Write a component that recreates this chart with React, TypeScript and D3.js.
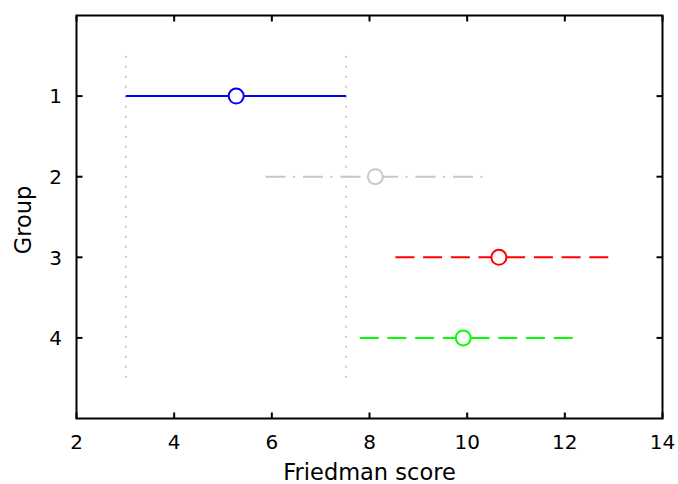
import React from "react";
import * as d3 from "d3";

const groups = [1, 2, 3, 4];
const means = [5.27, 8.12, 10.65, 9.92];
const lowers = [3.01, 5.87, 8.43, 7.68];
const uppers = [7.52, 10.36, 12.89, 12.16];
const xTicks = [2, 4, 6, 8, 10, 12, 14];
const yTicks = [1, 2, 3, 4];
const xLabel = "Friedman score";
const yLabel = "Group";

const W = 678;
const H = 484;
const L = 76.5, R = 662.5, T = 15.5, B = 418.5;

const styles = [
  { color: "#0000ff", dash: "none", fromRight: false },
  { color: "#c8c8c8", dash: "20 7.5 2 8", fromRight: false },
  { color: "#ff0000", dash: "19 8.7", fromRight: true },
  { color: "#00ff00", dash: "19 8.7", fromRight: true },
];

export default function App() {
  const x = d3.scaleLinear().domain([2, 14]).range([L, R]);
  const y = d3.scaleLinear().domain([0, 5]).range([T, B]);
  const font = "DejaVu Sans, sans-serif";
  const tickLen = 6;
  return (
    <svg width={W} height={H} style={{ position: "absolute", left: 0, top: 0, background: "#fff" }}>
      <rect x={0} y={0} width={W} height={H} fill="#fff" />
      {[lowers[0], uppers[0]].map((v, i) => (
        <line key={"v" + i} x1={x(v)} x2={x(v)} y1={y(0.5)} y2={y(4.5)}
          stroke="#c8c8c8" strokeWidth={2} strokeDasharray="2 8" />
      ))}
      {groups.map((g, i) => {
        const a = styles[i].fromRight ? uppers[i] : lowers[i];
        const b = styles[i].fromRight ? lowers[i] : uppers[i];
        return (
          <g key={g}>
            <line x1={x(a)} x2={x(b)} y1={y(g)} y2={y(g)}
              stroke={styles[i].color} strokeWidth={2} strokeDasharray={styles[i].dash} />
            <circle cx={x(means[i])} cy={y(g)} r={7.5} fill="#fff"
              stroke={styles[i].color} strokeWidth={2} />
          </g>
        );
      })}
      <rect x={L} y={T} width={R - L} height={B - T} fill="none" stroke="#000" strokeWidth={2} />
      {xTicks.map((t) => (
        <g key={"x" + t}>
          <line x1={x(t)} x2={x(t)} y1={B} y2={B - tickLen} stroke="#000" strokeWidth={2} />
          <line x1={x(t)} x2={x(t)} y1={T} y2={T + tickLen} stroke="#000" strokeWidth={2} />
          <text x={x(t)} y={449} textAnchor="middle" fontFamily={font} fontSize={20} fill="#000">{t}</text>
        </g>
      ))}
      {yTicks.map((t) => (
        <g key={"y" + t}>
          <line x1={L} x2={L + tickLen} y1={y(t)} y2={y(t)} stroke="#000" strokeWidth={2} />
          <line x1={R} x2={R - tickLen} y1={y(t)} y2={y(t)} stroke="#000" strokeWidth={2} />
          <text x={62} y={y(t)} dy="0.36em" textAnchor="end" fontFamily={font} fontSize={20} fill="#000">{t}</text>
        </g>
      ))}
      <text x={(L + R) / 2} y={480} textAnchor="middle" fontFamily={font} fontSize={22.5} fill="#000">{xLabel}</text>
      <text transform={`translate(31,${(T + B) / 2 + 3}) rotate(-90)`} textAnchor="middle" fontFamily={font} fontSize={22.5} fill="#000">{yLabel}</text>
    </svg>
  );
}
